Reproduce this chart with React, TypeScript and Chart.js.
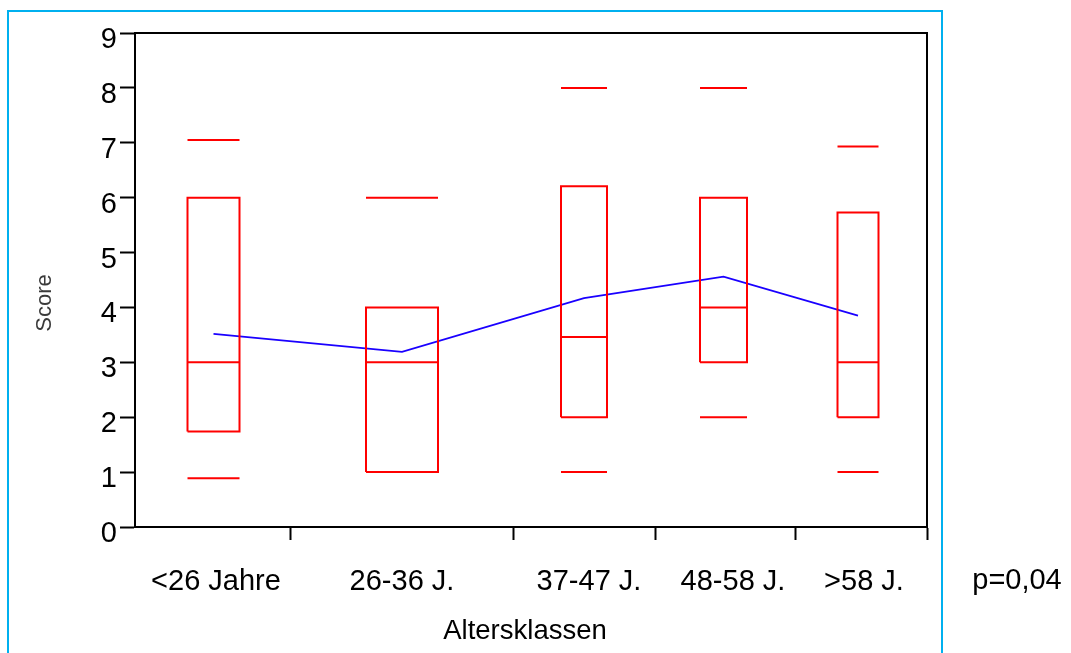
import React, { useEffect, useRef } from 'react';
import { Chart, registerables } from 'chart.js';

Chart.register(...registerables);

// ---- data ----
const categories = ['<26 Jahre', '26-36 J.', '37-47 J.', '48-58 J.', '>58 J.'];
const whiskerHigh = [7.05, 6, 8, 8, 6.93];
const q3 = [6, 4, 6.21, 6, 5.73];
const median = [3, 3, 3.46, 4, 3];
const q1 = [1.74, 1, 2, 3, 2];
const whiskerLow = [0.89, 1, 1, 2, 1];
const mean = [3.52, 3.19, 4.17, 4.56, 3.85];
const yTicks = [0, 1, 2, 3, 4, 5, 6, 7, 8, 9];
const yAxisTitle = 'Score';
const xAxisTitle = 'Altersklassen';
const pValue = 'p=0,04';

// ---- layout (x-axis units) ----
const groupBounds = [0, 155, 378, 520, 660, 792];
const boxCenters = [78.5, 267, 449, 588.5, 723];
const boxHalfWidths = [26, 36, 23, 23.5, 20.5];
const labelPositions = [81, 267, 454, 598, 729];

const FONT = "'Liberation Sans', Arial, Helvetica, sans-serif";

export default function App() {
  const ref = useRef<HTMLCanvasElement | null>(null);

  useEffect(() => {
    if (!ref.current) return;

    const redPts: { x: number; y: number | null }[] = [];
    categories.forEach((_, i) => {
      const L = boxCenters[i] - boxHalfWidths[i];
      const R = boxCenters[i] + boxHalfWidths[i];
      redPts.push({ x: L, y: q1[i] }, { x: R, y: q1[i] }, { x: R, y: q3[i] }, { x: L, y: q3[i] }, { x: L, y: q1[i] }, { x: L, y: null });
      redPts.push({ x: L, y: median[i] }, { x: R, y: median[i] }, { x: R, y: null });
      redPts.push({ x: L, y: whiskerHigh[i] }, { x: R, y: whiskerHigh[i] }, { x: R, y: null });
      redPts.push({ x: L, y: whiskerLow[i] }, { x: R, y: whiskerLow[i] }, { x: R, y: null });
    });
    const meanPts = categories.map((_, i) => ({ x: boxCenters[i], y: mean[i] }));

    const boundaryTicks = groupBounds.slice(1);
    const allTicks = [...boundaryTicks, ...labelPositions].sort((a, b) => a - b);

    const textPlugin = {
      id: 'texts',
      afterDraw(chart: any) {
        const ctx = chart.ctx;
        const a = chart.chartArea;
        ctx.save();
        ctx.strokeStyle = '#000';
        ctx.lineWidth = 2;
        ctx.strokeRect(a.left, a.top, a.right - a.left, a.bottom - a.top);
        ctx.textAlign = 'center';
        ctx.textBaseline = 'middle';
        ctx.fillStyle = '#000';
        ctx.font = `27.5px ${FONT}`;
        ctx.fillText(xAxisTitle, 525, 631);
        ctx.font = `29px ${FONT}`;
        ctx.fillText(pValue, 1017, 581);
        ctx.save();
        ctx.translate(45, 303);
        ctx.rotate(-Math.PI / 2);
        ctx.fillStyle = '#3a3a3a';
        ctx.font = `22px ${FONT}`;
        ctx.fillText(yAxisTitle, 0, 0);
        ctx.restore();
        ctx.restore();
      },
    };

    const chart = new Chart(ref.current, {
      type: 'scatter',
      data: {
        datasets: [
          {
            data: redPts as any,
            showLine: true,
            spanGaps: false,
            borderColor: '#ff0000',
            backgroundColor: '#ff0000',
            borderWidth: 2,
            pointRadius: 0,
            pointHoverRadius: 0,
            borderJoinStyle: 'miter',
          } as any,
          {
            data: meanPts,
            showLine: true,
            borderColor: '#1a00ff',
            backgroundColor: '#1a00ff',
            borderWidth: 1.8,
            pointRadius: 0,
            pointHoverRadius: 0,
          } as any,
        ],
      },
      options: {
        responsive: false,
        animation: false,
        events: [],
        layout: { padding: { top: 33, right: 144, left: 0, bottom: 0 } },
        plugins: { legend: { display: false }, tooltip: { enabled: false } },
        scales: {
          x: {
            type: 'linear',
            min: groupBounds[0],
            max: groupBounds[groupBounds.length - 1],
            position: 'bottom',
            border: { display: true, color: '#000', width: 2 },
            grid: {
              drawOnChartArea: false,
              tickLength: 13,
              tickWidth: 2,
              tickColor: (c: any) =>
                c.tick && boundaryTicks.includes(c.tick.value) ? '#000' : 'rgba(0,0,0,0)',
            },
            afterBuildTicks: (s: any) => {
              s.ticks = allTicks.map((v) => ({ value: v }));
            },
            afterFit: (s: any) => {
              s.height = 126;
            },
            ticks: {
              autoSkip: false,
              maxRotation: 0,
              minRotation: 0,
              padding: 25,
              color: '#000',
              font: { family: FONT, size: 29 },
              callback: (v: any) => {
                const i = labelPositions.indexOf(Number(v));
                return i >= 0 ? categories[i] : '';
              },
            },
          },
          y: {
            type: 'linear',
            min: yTicks[0],
            max: yTicks[yTicks.length - 1],
            border: { display: true, color: '#000', width: 2 },
            grid: { drawOnChartArea: false, tickLength: 15, tickWidth: 2, tickColor: '#000' },
            afterBuildTicks: (s: any) => {
              s.ticks = yTicks.map((v) => ({ value: v }));
            },
            afterFit: (s: any) => {
              s.width = 135;
            },
            ticks: {
              padding: 3,
              labelOffset: 7,
              color: '#000',
              font: { family: FONT, size: 29 },
            },
          },
        },
      } as any,
      plugins: [textPlugin],
    });

    return () => chart.destroy();
  }, []);

  return (
    <div style={{ position: 'absolute', left: 0, top: 0, width: 1071, height: 653, overflow: 'hidden', background: '#fff' }}>
      <div
        style={{
          position: 'absolute',
          left: 7,
          top: 10,
          width: 936,
          height: 700,
          boxSizing: 'border-box',
          border: '2px solid #00b0ef',
        }}
      />
      <canvas ref={ref} width={1071} height={653} style={{ position: 'absolute', left: 0, top: 0 }} />
    </div>
  );
}
